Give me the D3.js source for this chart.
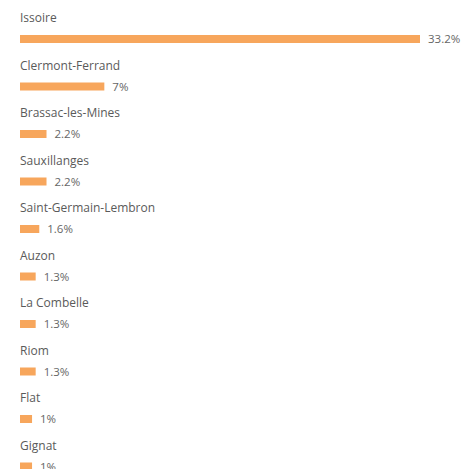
<!DOCTYPE html>
<html lang="en">
<head>
  <meta charset="UTF-8">
  <title>Communes</title>
  <style>
    body { margin: 0; background: #fff; }
    .bar { fill: #f7a65c; }
    .name { fill: #5a5a5a; font-family: 'Open Sans', sans-serif; font-size: 12px; }
    .val { fill: #666; font-family: 'Open Sans', sans-serif; font-size: 11.5px; }
  </style>
</head>
<body>
  <svg width="465" height="469"></svg>
  <script src="https://cdn.jsdelivr.net/npm/d3@7"></script>
  <script>
    var communes = ['Issoire', 'Clermont-Ferrand', 'Brassac-les-Mines', 'Sauxillanges',
      'Saint-Germain-Lembron', 'Auzon', 'La Combelle', 'Riom', 'Flat', 'Gignat']
    var shares = [33.2, 7, 2.2, 2.2, 1.6, 1.3, 1.3, 1.3, 1, 1]
    var shareLabels = ['33.2%', '7%', '2.2%', '2.2%', '1.6%', '1.3%', '1.3%', '1.3%', '1%', '1%']

    var data = communes.map(function(c, i) {
      return { name: c, value: shares[i], label: shareLabels[i] }
    })

    var svg = d3.select('svg')
    var left = 20

    var xScale = d3.scaleLinear().domain([0, 33.2]).range([0, 400])
    var yScale = d3.scaleBand().domain(communes).range([8, 8 + 47.5 * communes.length])

    var row = svg.selectAll('.row')
      .data(data)
      .enter()
      .append('g')
      .attr('class', 'row')
      .attr('transform', function(d) {
        return 'translate(' + left + ',' + yScale(d.name) + ')'
      })

    row.append('text')
      .attr('class', 'name')
      .attr('x', 0)
      .attr('y', 14)
      .text(function(d) { return d.name })

    row.append('rect')
      .attr('class', 'bar')
      .attr('x', 0)
      .attr('y', 27)
      .attr('height', 8)
      .attr('width', function(d) { return xScale(d.value) })

    // last row's value sits at the bottom edge, as in the original
    row.append('text')
      .attr('class', 'val')
      .attr('x', function(d) { return xScale(d.value) + 8 })
      .attr('y', 35)
      .text(function(d) { return d.label })
  </script>
</body>
</html>
